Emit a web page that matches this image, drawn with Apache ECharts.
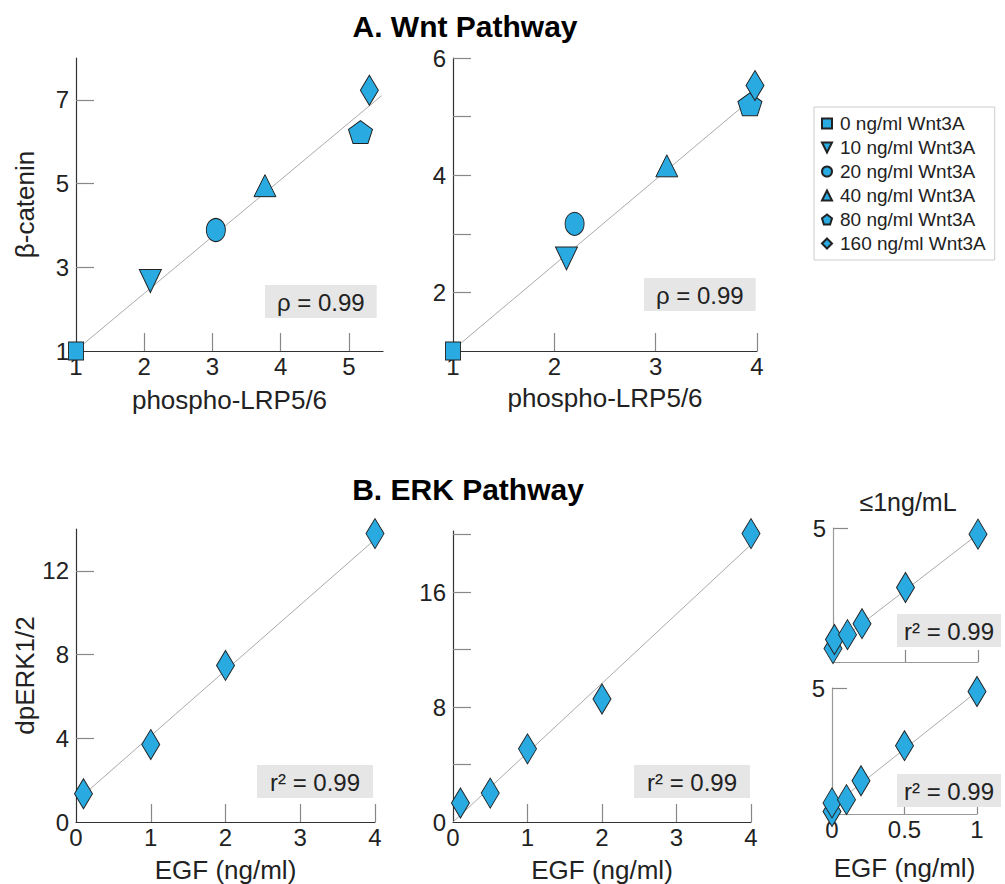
<!DOCTYPE html>
<html>
<head>
<meta charset="utf-8">
<script src="https://cdn.jsdelivr.net/npm/echarts@6/dist/echarts.min.js"></script>
<style>
  html, body { margin: 0; padding: 0; background: #fff; }
  #main { width: 1005px; height: 884px; }
</style>
</head>
<body>
<div id="main"></div>
<script>
// Wnt doses (legend + one marker shape each)
var doseNames = ['0 ng/ml Wnt3A', '10 ng/ml Wnt3A', '20 ng/ml Wnt3A', '40 ng/ml Wnt3A', '80 ng/ml Wnt3A', '160 ng/ml Wnt3A'];
// A. Wnt pathway, left panel
var lrpA1 = [1, 2.09, 3.05, 3.77, 5.17, 5.30];
var catA1 = [1, 2.67, 3.89, 4.95, 6.23, 7.23];
var fitA1 = [[1, 1.02], [5.48, 7.10]];
// A. Wnt pathway, right panel
var lrpA2 = [1, 2.12, 2.20, 3.11, 3.93, 3.98];
var catA2 = [1, 2.58, 3.17, 4.16, 5.21, 5.53];
var fitA2 = [[1, 1.02], [3.98, 5.35]];
// B. ERK pathway
var egfB1 = [0.1, 1, 2, 4];
var erkB1 = [1.35, 3.70, 7.48, 13.78];
var fitB1 = [[0.1, 1.3], [4, 13.5]];
var egfB2 = [0.1, 0.5, 1, 2, 4];
var erkB2 = [1.32, 2.01, 5.09, 8.56, 20.07];
var fitB2 = [[0, 0], [4, 19.3]];
// low dose insets (<=1 ng/ml)
var egfB3 = [0, 0.01, 0.1, 0.2, 0.5, 1];
var erkB3 = [0.5, 0.84, 1.02, 1.43, 2.78, 4.77];
var fitB3 = [[0, 0.6], [1, 4.77]];
var egfB4 = [0, 0, 0.1, 0.2, 0.5, 1];
var erkB4 = [0.1, 0.44, 0.57, 1.32, 2.71, 4.86];
var fitB4 = [[0, 0.3], [1, 4.86]];

var FONT = 'Liberation Sans, Arial, sans-serif';
var BLUE = '#29abe2';

var shapes = [
    {symbol: 'rect', size: [15, 18]},
    {symbol: 'path://M0,0L20,0L10,20Z', size: [22, 23]},
    {symbol: 'circle', size: [19, 23]},
    {symbol: 'triangle', size: [22, 22]},
    {symbol: 'path://M50,0L100,38L81,100L19,100L0,38Z', size: [24, 23]},
    {symbol: 'diamond', size: [18, 30]}
];

function zip(xs, ys) {
    return xs.map(function (x, i) { return [x, ys[i]]; });
}

function xAxisOf(grid, min, max, ticks, labels, name, gap, lineColor, tickLen) {
    return {
        type: 'value', gridIndex: grid, min: min, max: max,
        name: name, nameLocation: 'middle', nameGap: gap,
        nameTextStyle: {fontSize: 26, color: '#222', fontFamily: FONT},
        axisLine: {show: true, lineStyle: {color: lineColor, width: 1.2}},
        axisTick: {show: true, inside: true, length: tickLen, customValues: ticks, lineStyle: {color: '#888', width: 1.2}},
        axisLabel: {show: labels.length > 0, customValues: labels, margin: 3, fontSize: 24, color: '#222', fontFamily: FONT},
        splitLine: {show: false}
    };
}

function yAxisOf(grid, min, max, ticks, labels, name, gap, lineColor, tickLen) {
    return {
        type: 'value', gridIndex: grid, min: min, max: max,
        name: name, nameLocation: 'middle', nameGap: gap,
        nameTextStyle: {fontSize: 26, color: '#222', fontFamily: FONT},
        axisLine: {show: true, lineStyle: {color: lineColor, width: 1.2}},
        axisTick: {show: true, inside: true, length: tickLen, customValues: ticks, lineStyle: {color: '#888', width: 1.2}},
        axisLabel: {show: true, customValues: labels, margin: 7, fontSize: 24, color: '#222', fontFamily: FONT},
        splitLine: {show: false}
    };
}

function fitLine(idx, pts) {
    return {
        type: 'line', xAxisIndex: idx, yAxisIndex: idx, data: pts,
        symbol: 'none', silent: true, z: 1,
        lineStyle: {color: '#aaa', width: 1}
    };
}

function statBox(text, left, top, padH) {
    return {
        text: text, left: left, top: top,
        backgroundColor: '#e6e6e6', padding: [5, padH, 4, padH],
        textStyle: {fontSize: 24, fontWeight: 'normal', color: '#222', fontFamily: FONT}
    };
}

var series = [];
series.push(fitLine(0, fitA1));
series.push(fitLine(1, fitA2));
series.push(fitLine(2, fitB1));
series.push(fitLine(3, fitB2));
series.push(fitLine(4, fitB3));
series.push(fitLine(5, fitB4));

// one series per dose, in both Wnt panels
doseNames.forEach(function (nm, i) {
    [[lrpA1, catA1, 0], [lrpA2, catA2, 1]].forEach(function (p) {
        series.push({
            type: 'scatter', name: nm, xAxisIndex: p[2], yAxisIndex: p[2],
            data: [[p[0][i], p[1][i]]],
            symbol: shapes[i].symbol, symbolSize: shapes[i].size,
            clip: false, z: 3,
            itemStyle: {color: BLUE, borderColor: '#222', borderWidth: 1, opacity: 1}
        });
    });
});

[[egfB1, erkB1, 2], [egfB2, erkB2, 3], [egfB3, erkB3, 4], [egfB4, erkB4, 5]].forEach(function (p) {
    series.push({
        type: 'scatter', name: 'EGF ' + p[2], xAxisIndex: p[2], yAxisIndex: p[2],
        data: zip(p[0], p[1]),
        symbol: 'diamond', symbolSize: [18, 30],
        clip: false, z: 3,
        itemStyle: {color: BLUE, borderColor: '#222', borderWidth: 1, opacity: 1}
    });
});

var chart = echarts.init(document.getElementById('main'), null, {renderer: 'svg'});
var option = {
    backgroundColor: '#fff',
    animation: false,
    title: [
        {text: 'A. Wnt Pathway', left: 460, top: 6, textAlign: 'center',
         textStyle: {fontSize: 30, fontWeight: 'bold', color: '#000', fontFamily: FONT}},
        {text: 'B. ERK Pathway', left: 463, top: 469, textAlign: 'center',
         textStyle: {fontSize: 30, fontWeight: 'bold', color: '#000', fontFamily: FONT}},
        {text: '≤1ng/mL', left: 903, top: 484, textAlign: 'center',
         textStyle: {fontSize: 25, fontWeight: 'normal', color: '#222', fontFamily: FONT}},
        statBox('ρ = 0.99', 265, 285, 12),
        statBox('ρ = 0.99', 644, 278, 12),
        statBox('r² = 0.99', 257, 765, 13),
        statBox('r² = 0.99', 634, 765, 13),
        statBox('r² = 0.99', 897, 614, 7),
        statBox('r² = 0.99', 897, 774, 7)
    ],
    legend: {
        data: doseNames, orient: 'vertical', left: 814, top: 107,
        padding: [7, 9, 7, 7], itemGap: 5, itemWidth: 10, itemHeight: 10,
        borderColor: '#ccc', borderWidth: 1,
        selectedMode: false,
        textStyle: {fontSize: 19, color: '#222', fontFamily: FONT, padding: [0, 0, 0, 3]}
    },
    grid: [
        {left: 76, top: 58, width: 307, height: 293, outerBoundsMode: 'none'},
        {left: 453, top: 58, width: 304, height: 293, outerBoundsMode: 'none'},
        {left: 76, top: 529, width: 299, height: 293, outerBoundsMode: 'none'},
        {left: 453, top: 531, width: 298, height: 291, outerBoundsMode: 'none'},
        {left: 833, top: 528, width: 145, height: 134, outerBoundsMode: 'none'},
        {left: 832, top: 688, width: 145, height: 126, outerBoundsMode: 'none'}
    ],
    xAxis: [
        xAxisOf(0, 1, 5.5, [2, 3, 4, 5], [1, 2, 3, 4, 5], 'phospho-LRP5/6', 36, '#333', 18),
        xAxisOf(1, 1, 4, [2, 3, 4], [1, 2, 3, 4], 'phospho-LRP5/6', 34, '#333', 18),
        xAxisOf(2, 0, 4, [1, 2, 3, 4], [0, 1, 2, 3, 4], 'EGF (ng/ml)', 35, '#333', 18),
        xAxisOf(3, 0, 4, [1, 2, 3, 4], [0, 1, 2, 3, 4], 'EGF (ng/ml)', 35, '#333', 18),
        xAxisOf(4, 0, 1, [0.5, 1], [], '', 0, '#999', 12),
        xAxisOf(5, 0, 1, [0.5, 1], [0, 0.5, 1], 'EGF (ng/ml)', 41, '#999', 12)
    ],
    yAxis: [
        yAxisOf(0, 1, 8, [3, 5, 7], [1, 3, 5, 7], 'β-catenin', 38, '#333', 18),
        yAxisOf(1, 1, 6, [2, 3, 4, 5, 6], [2, 4, 6], '', 0, '#333', 18),
        yAxisOf(2, 0, 14, [4, 8, 12], [0, 4, 8, 12], 'dpERK1/2', 35, '#333', 18),
        yAxisOf(3, 0, 20.25, [4, 8, 12, 16, 20], [0, 8, 16], '', 0, '#333', 18),
        yAxisOf(4, 0, 5, [5], [5], '', 0, '#999', 15),
        yAxisOf(5, 0, 5, [5], [5], '', 0, '#999', 15)
    ],
    series: series
};
chart.setOption(option);
</script>
</body>
</html>
